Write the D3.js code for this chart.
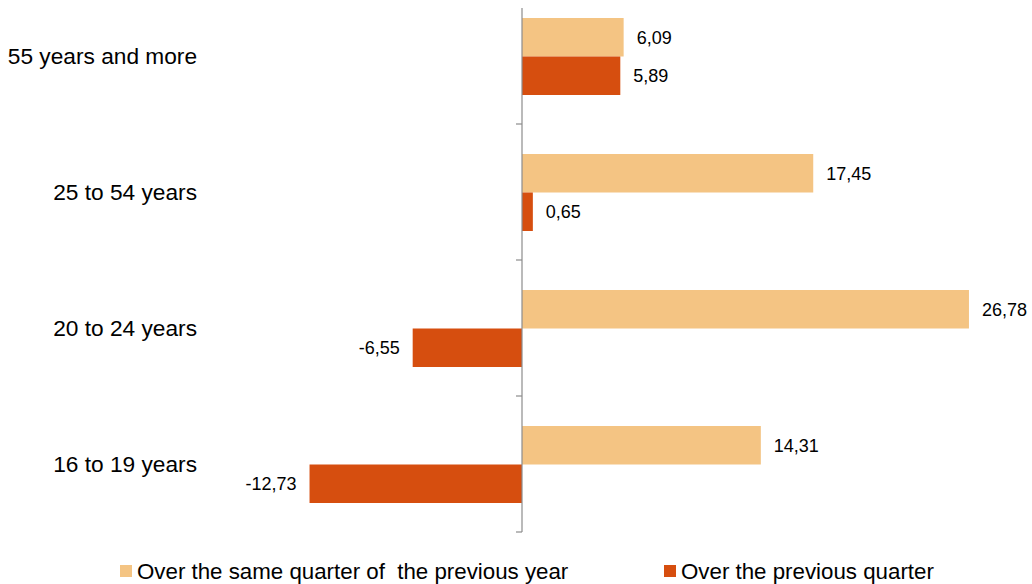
<!DOCTYPE html>
<html lang="en">
<head>
<meta charset="utf-8">
<title>Employment change by age</title>
<script src="https://cdnjs.cloudflare.com/ajax/libs/d3/7.8.5/d3.min.js"></script>
<style>
  body { margin: 0; background: #fff; }
  svg { display: block; font-family: "Liberation Sans", Arial, sans-serif; }
</style>
</head>
<body>
<div id="chart"></div>
<script>
  // data, top to bottom as drawn
  const categories = ["55 years and more", "25 to 54 years", "20 to 24 years", "16 to 19 years"];
  const seriesNames = ["Over the same quarter of  the previous year", "Over the previous quarter"];
  const sameQuarterPrevYear = [6.09, 17.45, 26.78, 14.31];
  const prevQuarter = [5.89, 0.65, -6.55, -12.73];
  const colors = ["#F4C483", "#D64E0F"];

  const width = 1032;
  const height = 584;
  const zeroX = 522;
  const pxPerUnit = 16.69;

  const svg = d3.select("#chart")
    .append("svg")
    .attr("width", width)
    .attr("height", height);

  const x = d3.scaleLinear()
    .domain([-15, 30])
    .range([zeroX - 15 * pxPerUnit, zeroX + 30 * pxPerUnit]);

  const y = d3.scaleBand()
    .domain(categories)
    .range([-12, 532]);

  const ySub = d3.scaleBand()
    .domain([0, 1])
    .range([30, 107]);

  // comma decimals, plain hyphen for negatives
  const fmt = v => d3.format(".2f")(v).replace(".", ",").replace("\u2212", "-");

  const rows = categories.map((c, i) => ({
    cat: c,
    vals: [sameQuarterPrevYear[i], prevQuarter[i]]
  }));

  // bars
  const groups = svg.append("g")
    .selectAll("g")
    .data(rows)
    .join("g")
    .attr("transform", d => "translate(0," + y(d.cat) + ")");

  groups.selectAll("rect")
    .data(d => d.vals.map((v, s) => ({ v, s })))
    .join("rect")
    .attr("x", d => x(Math.min(0, d.v)))
    .attr("y", d => ySub(d.s))
    .attr("width", d => Math.abs(x(d.v) - x(0)))
    .attr("height", ySub.bandwidth())
    .attr("fill", d => colors[d.s]);

  groups.selectAll("text")
    .data(d => d.vals.map((v, s) => ({ v, s })))
    .join("text")
    .attr("x", d => d.v >= 0 ? x(d.v) + 13 : x(d.v) - 13)
    .attr("y", d => ySub(d.s) + ySub.bandwidth() / 2)
    .attr("dy", "0.35em")
    .attr("text-anchor", d => d.v >= 0 ? "start" : "end")
    .attr("font-size", 18)
    .attr("fill", "#000")
    .text(d => fmt(d.v));

  // vertical category axis at zero
  const axis = svg.append("g").attr("stroke", "#8c8c8c").attr("stroke-width", 1.2);
  axis.append("line")
    .attr("x1", x(0)).attr("x2", x(0))
    .attr("y1", 8).attr("y2", y.range()[1]);
  axis.selectAll("line.tick")
    .data(categories)
    .join("line")
    .attr("class", "tick")
    .attr("x1", x(0) - 6).attr("x2", x(0))
    .attr("y1", d => y(d) + y.bandwidth())
    .attr("y2", d => y(d) + y.bandwidth());

  // category labels
  svg.append("g")
    .selectAll("text")
    .data(categories)
    .join("text")
    .attr("x", 197)
    .attr("y", d => y(d) + y.bandwidth() / 2)
    .attr("dy", "0.35em")
    .attr("text-anchor", "end")
    .attr("font-size", 22.7)
    .attr("fill", "#000")
    .text(d => d);

  // legend
  const legendX = [120, 664];
  const legend = svg.append("g")
    .selectAll("g")
    .data(seriesNames)
    .join("g")
    .attr("transform", (d, i) => "translate(" + legendX[i] + ",565)");
  legend.append("rect")
    .attr("width", 12).attr("height", 12)
    .attr("fill", (d, i) => colors[i]);
  legend.append("text")
    .attr("x", 17)
    .attr("y", 6)
    .attr("dy", "0.35em")
    .attr("font-size", 22.3)
    .attr("fill", "#000")
    .attr("xml:space", "preserve")
    .style("white-space", "pre")
    .text(d => d);
</script>
</body>
</html>
